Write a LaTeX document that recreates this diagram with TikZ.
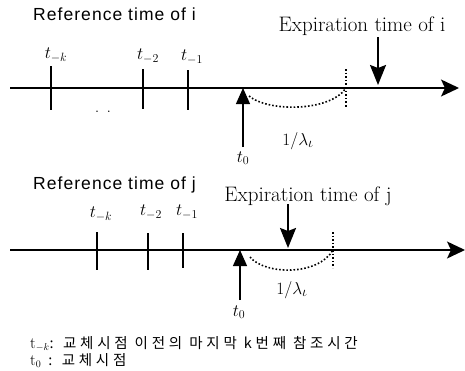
\documentclass[tikz,border=0pt]{standalone}
\usepackage{fontspec}
\newfontfamily\refsans[LetterSpace=6]{Liberation Sans}
\newfontfamily\hangul[LetterSpace=26]{Noto Sans CJK KR}
\usetikzlibrary{arrows.meta,positioning,calc}
\tikzset{
  >={Stealth[length=18pt,width=17pt,inset=4pt]},
  % zeitachsen
  axis/.style={->,line width=1.3pt},
  tickln/.style={line width=1.4pt},
  tl/.style={font=\fontsize{18}{18}\selectfont,inner sep=1pt},
  head/.style={font=\refsans\fontsize{17.5}{18}\selectfont,inner sep=0pt,anchor=west},
  expl/.style={font=\fontsize{21}{21}\selectfont,inner sep=0pt},
  expa/.style={-{Stealth[length=20pt,width=16pt,inset=3pt]},line width=2pt},
  nowa/.style={-{Triangle[length=16pt,width=14pt]},line width=1.2pt},
  gap/.style={dotted,line width=1.6pt},
  lam/.style={font=\fontsize{19}{19}\selectfont,inner sep=1pt},
  leg/.style={font=\hangul\fontsize{14.5}{15}\selectfont,inner sep=0pt,
              text height=10pt,text depth=3pt,anchor=base west},
}
\newcommand{\legt}{{\rmfamily\fontsize{16}{16}\selectfont t}}
\begin{document}
\begin{tikzpicture}[x=1pt,y=-1pt]
  \useasboundingbox (0,0) rectangle (465,370);
  % object i
  \node[head] (refi) at (33,14) {Reference time of i};
  \coordinate (ai) at (10,88);
  \coordinate (bi) at (459,88);
  \draw[axis] (ai) -- (bi);
  \draw[tickln] (51,66) -- (51,110);
  \draw[tickln] (143,69) -- (143,109);
  \draw[tickln] (188,70) -- (188,110);
  \node[tl] (tki) at (56,55) {$t_{-k}$};
  \node[tl] (t2i) at (148,56) {$t_{-2}$};
  \node[tl] (t1i) at (192,57) {$t_{-1}$};
  \node[tl] (dti) at (103,112) {. .};
  \coordinate (nowi) at (243,88);
  \node[tl] (t0i) at (243,158) {$t_0$};
  \draw[nowa] (243,147) -- (nowi);
  \coordinate (endi) at (346,88);
  \draw[gap] (346,69) -- (346,108);
  \draw[gap] (249,96) .. controls (268,112) and (330,112) .. (endi);
  \node[lam] (lmi) at (298,141) {$1/\lambda_\iota$};
  \node[expl] (expi) at (362,26) {Expiration time of i};
  \coordinate (hiti) at (378,85);
  \draw[expa] (378,37) -- (hiti);
  % object j
  \node[head] (refj) at (33,185) {Reference time of j};
  \coordinate (aj) at (10,250);
  \coordinate (bj) at (465,250);
  \draw[axis] (aj) -- (bj);
  \draw[tickln] (97,232) -- (97,270);
  \draw[tickln] (148,233) -- (148,270);
  \draw[tickln] (183,233) -- (183,268);
  \node[tl] (tkj) at (101,214) {$t_{-k}$};
  \node[tl] (t2j) at (151,212) {$t_{-2}$};
  \node[tl] (t1j) at (187,212) {$t_{-1}$};
  \coordinate (nowj) at (240,250);
  \node[tl] (t0j) at (239,312) {$t_0$};
  \draw[nowa] (240,300) -- (nowj);
  \coordinate (endj) at (333,250);
  \draw[gap] (333,232) -- (333,268);
  \draw[gap] (250,257) .. controls (265,275) and (318,276) .. (endj);
  \node[lam] (lmj) at (292,290) {$1/\lambda_\iota$};
  \node[expl] (expj) at (308,196) {Expiration time of j};
  \coordinate (hitj) at (288,248);
  \draw[expa] (288,204) -- (hitj);
  % legende
  \node[leg] (lg1) at (30,348) {\legt$_{-k}$: 교체시점 이전의 마지막 k번째 참조시간};
  \node[leg] (lg2) at (30,365) {\legt$_{0}$ : 교체시점};
\end{tikzpicture}
\end{document}
